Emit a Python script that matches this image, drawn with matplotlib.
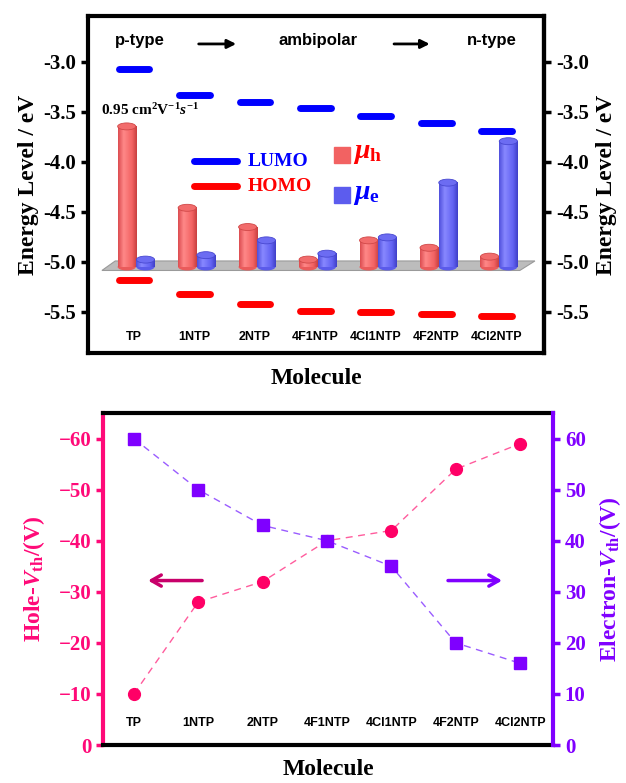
import matplotlib
matplotlib.use("Agg")
import matplotlib.pyplot as plt
import numpy as np
from matplotlib.colors import LinearSegmentedColormap
from matplotlib.patches import Ellipse, Polygon
from matplotlib.ticker import FuncFormatter, FormatStrFormatter

plt.rcParams.update({
    "font.family": "Liberation Serif",
    "font.weight": "bold",
    "axes.labelweight": "bold",
    "axes.unicode_minus": False,
    "mathtext.fontset": "custom",
    "mathtext.rm": "Liberation Serif:bold",
    "mathtext.bf": "Liberation Serif:bold",
    "mathtext.it": "Liberation Serif:italic:bold",
})

# =============================================================================
# Data
# =============================================================================

MOLECULES = ["TP", "1NTP", "2NTP", "4F1NTP", "4Cl1NTP", "4F2NTP", "4Cl2NTP"]
LUMO = [-3.07, -3.33, -3.40, -3.46, -3.54, -3.61, -3.69]
HOMO = [-5.18, -5.32, -5.42, -5.49, -5.50, -5.52, -5.54]
MU_H = [0.95, 0.40, 0.27, 0.05, 0.18, 0.13, 0.07]   # cm2/Vs
MU_E = [0.05, 0.08, 0.18, 0.09, 0.20, 0.57, 0.85]
HOLE_VTH = [-10, -28, -32, -40, -42, -54, -59]      # V
ELECTRON_VTH = [60, 50, 43, 40, 35, 20, 16]

# =============================================================================
# Farver
# =============================================================================

BLUE = "#0000ff"
RED = "#ff0000"
PINK = "#ff0a78"
PURPLE = "#8000ff"
RED_CYL = LinearSegmentedColormap.from_list(
    "redcyl", [(0, "#dc4c50"), (0.3, "#ff8888"), (0.75, "#f26262"), (1, "#c84040")])
BLUE_CYL = LinearSegmentedColormap.from_list(
    "bluecyl", [(0, "#4f4fdc"), (0.3, "#8888ff"), (0.75, "#6262f2"), (1, "#4040c8")])

EH = 0.047          # ellipse height (mobility units)
CYL_W = 0.30


def cylinder(ax, xc, h, cmap, top, edge, z):
    grad = np.linspace(0, 1, 64).reshape(1, -1)
    ax.add_patch(Ellipse((xc, 0), CYL_W, EH, facecolor=cmap(0.8),
                         edgecolor="none", zorder=z - 0.1))
    ax.imshow(grad, extent=[xc - CYL_W / 2, xc + CYL_W / 2, 0, h],
              aspect="auto", cmap=cmap, origin="lower", zorder=z)
    ax.add_patch(Ellipse((xc, h), CYL_W, EH, facecolor=top,
                         edgecolor=edge, lw=0.6, zorder=z + 0.1))


fig = plt.figure(figsize=(6.26, 7.83), dpi=100)
x = np.arange(len(MOLECULES))

# =============================================================================
# Top: energy levels + mobility cylinders
# =============================================================================

ax = fig.add_axes([0.1406, 0.5492, 0.7284, 0.4298])

ax.add_patch(Polygon([(-0.53, -5.085), (6.38, -5.085), (6.63, -4.99), (-0.31, -4.99)],
                     closed=True, facecolor="#bcbcbc", edgecolor="#9a9a9a", lw=0.8, zorder=1))

for xi, lu, ho in zip(x, LUMO, HOMO):
    ax.plot([xi - 0.255, xi + 0.255], [lu, lu], color=BLUE, lw=5, solid_capstyle="round")
    ax.plot([xi - 0.255, xi + 0.255], [ho, ho], color=RED, lw=5, solid_capstyle="round")

# legend (manual)
ax.plot([0.232, 0.326], [0.569, 0.569], transform=ax.transAxes, color=BLUE, lw=5,
        solid_capstyle="round")
ax.plot([0.232, 0.326], [0.496, 0.496], transform=ax.transAxes, color=RED, lw=5,
        solid_capstyle="round")
ax.text(0.351, 0.569, "LUMO", transform=ax.transAxes, color=BLUE, fontsize=14, va="center")
ax.text(0.351, 0.496, "HOMO", transform=ax.transAxes, color=RED, fontsize=14, va="center")
ax.plot(0.557, 0.587, "s", ms=11, color="#f26262", transform=ax.transAxes)
ax.plot(0.557, 0.468, "s", ms=11, color="#5c5cee", transform=ax.transAxes)
ax.text(0.581, 0.592, r"$\mu_{\mathrm{h}}$", transform=ax.transAxes, color=RED,
        fontsize=20, va="center")
ax.text(0.581, 0.470, r"$\mu_{\mathrm{e}}$", transform=ax.transAxes, color=BLUE,
        fontsize=20, va="center")

ax.text(0.1, -2.79, "p-type", ha="center", va="center", fontsize=12,
        family="Liberation Sans", fontweight="bold")
ax.text(3.04, -2.79, "ambipolar", ha="center", va="center", fontsize=12,
        family="Liberation Sans", fontweight="bold")
ax.text(5.92, -2.79, "n-type", ha="center", va="center", fontsize=12,
        family="Liberation Sans", fontweight="bold")
for x0, x1 in [(1.07, 1.69), (4.30, 4.89)]:
    ax.annotate("", xy=(x1, -2.82), xytext=(x0, -2.82),
                arrowprops=dict(arrowstyle="-|>", color="black", lw=2,
                                mutation_scale=13, shrinkA=0, shrinkB=0))
ax.text(0.26, -3.48, r"0.95 cm$^{2}$V$^{-1}$$s^{-1}$", ha="center", va="center", fontsize=11)

ax.set_xticks(x, MOLECULES)
ax.tick_params(axis="x", length=0, pad=-16, labelsize=9)
for lab in ax.get_xticklabels():
    lab.set_family("Liberation Sans")
    lab.set_fontweight("bold")
ax.set_yticks(np.arange(-5.5, -2.9, 0.5))
ax.yaxis.set_major_formatter(FormatStrFormatter("%.1f"))
ax.tick_params(axis="y", direction="out", length=5, width=2.5, labelsize=15)
ax.set_ylim(-5.91, -2.545)
ax.set_ylabel("Energy Level / eV", fontsize=17, labelpad=3)
ax.set_xlabel("Molecule", fontsize=17, labelpad=11)
for sp in ax.spines.values():
    sp.set_linewidth(3)

axr = ax.secondary_yaxis("right")
axr.set_yticks(np.arange(-5.5, -2.9, 0.5))
axr.yaxis.set_major_formatter(FormatStrFormatter("%.1f"))
axr.tick_params(axis="y", direction="out", length=5, width=2.5, labelsize=15)
axr.spines["right"].set_linewidth(3)
axr.set_ylabel("Energy Level / eV", fontsize=17, labelpad=5)

axm = ax.twinx()
axm.set_axis_off()
for xi, mh, me in zip(x, MU_H, MU_E):
    cylinder(axm, xi - 0.12, mh, RED_CYL, "#f26c6c", "#d04848", 3)
    cylinder(axm, xi + 0.19, me, BLUE_CYL, "#6c6cf2", "#4848d0", 5)
axm.set_ylim(-0.581, 1.693)
ax.set_xlim(-0.76, 6.78)

# =============================================================================
# Bottom: threshold voltages
# =============================================================================

axb = fig.add_axes([0.1645, 0.0485, 0.7188, 0.4240])
axe = axb.twinx()

axb.plot(x, HOLE_VTH, ls=(0, (5, 4)), lw=1, color="#ff5c9d", zorder=2)
axb.plot(x, HOLE_VTH, "o", ms=8.5, color="#ff0066", zorder=3)
axe.plot(x, ELECTRON_VTH, ls=(0, (5, 4)), lw=1, color="#9a5cff", zorder=2)
axe.plot(x, ELECTRON_VTH, "s", ms=8, color="#7f00ff", zorder=3)

axb.annotate("", xy=(0.22, -32.2), xytext=(1.06, -32.2),
             arrowprops=dict(arrowstyle="->,head_length=0.7,head_width=0.4",
                             color="#c8006a", lw=2.5, shrinkA=0, shrinkB=0))
axe.annotate("", xy=(5.72, 32.2), xytext=(4.88, 32.2),
             arrowprops=dict(arrowstyle="->,head_length=0.7,head_width=0.4",
                             color=PURPLE, lw=2.5, shrinkA=0, shrinkB=0))

minus = FuncFormatter(lambda v, p: f"{int(round(v))}".replace("-", "\u2212"))
axb.set_ylim(0, -65)
axb.set_yticks(np.arange(0, -61, -10))
axb.yaxis.set_major_formatter(minus)
axe.set_ylim(0, 65)
axe.set_yticks(np.arange(0, 61, 10))

axb.tick_params(axis="y", colors=PINK, length=5, width=2.5, labelsize=15)
axe.tick_params(axis="y", colors=PURPLE, length=5, width=2.5, labelsize=15)
axb.set_xticks(x, MOLECULES)
axb.tick_params(axis="x", length=0, pad=-20, labelsize=9)
for lab in axb.get_xticklabels():
    lab.set_family("Liberation Sans")
    lab.set_fontweight("bold")
axb.set_xlim(-0.48, 6.51)

for sp in ["top", "bottom", "left"]:
    axb.spines[sp].set_linewidth(3)
axb.spines["left"].set_color(PINK)
axb.spines["right"].set_visible(False)
for sp in ["top", "bottom", "left"]:
    axe.spines[sp].set_visible(False)
axe.spines["right"].set_linewidth(3)
axe.spines["right"].set_color(PURPLE)

axb.set_ylabel(r"Hole-$V_{\mathrm{th}}$/(V)", fontsize=17, color=PINK, labelpad=8)
axe.set_ylabel(r"Electron-$V_{\mathrm{th}}$/(V)", fontsize=17, color=PURPLE, labelpad=8)
axb.set_xlabel("Molecule", fontsize=17, labelpad=10)

fig.savefig("out.png", dpi=100)
